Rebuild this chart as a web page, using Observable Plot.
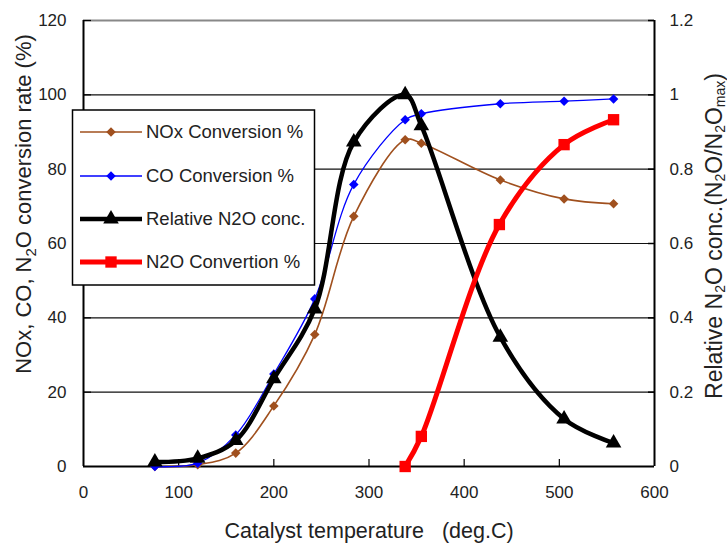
<!DOCTYPE html>
<html>
<head>
<meta charset="utf-8">
<script src="https://cdn.jsdelivr.net/npm/d3@7"></script>
<script src="https://cdn.jsdelivr.net/npm/@observablehq/plot@0.6"></script>
<style>
  html, body { margin: 0; padding: 0; background: #fff; }
  #chart { width: 727px; height: 544px; }
  svg text { white-space: pre; }
</style>
</head>
<body>
<div id="chart"></div>
<script>
// ---- data ----
const temps = [75, 120, 160, 200, 243, 284, 338, 355, 438, 505, 557];
const noxConv = [0, 0.5, 3.6, 16.3, 35.5, 67.3, 87.9, 87.0, 77.1, 72.0, 70.7];
const coConv = [0, 0.9, 8.5, 24.9, 45.1, 75.9, 93.3, 94.9, 97.6, 98.3, 98.9];
const relN2O = [0.012, 0.022, 0.07, 0.236, 0.424, 0.873, 1.0, 0.917, 0.348, 0.128, 0.063];
const n2oTemps = [338, 355, 437, 505, 557];
const n2oConv = [0, 8.1, 65.1, 86.6, 93.3];

const xTicks = [0, 100, 200, 300, 400, 500, 600];
const yTicks = [0, 20, 40, 60, 80, 100, 120];
const rightTicks = [0, 0.2, 0.4, 0.6, 0.8, 1, 1.2];
const gridValues = [20, 40, 60, 80, 100];

const seriesNames = ["NOx Conversion %", "CO Conversion %", "Relative N2O conc.", "N2O Convertion %"];
const xTitle = "Catalyst temperature   (deg.C)";

// ---- tables ----
const nox = temps.map((t, i) => ({t, v: noxConv[i]}));
const co = temps.map((t, i) => ({t, v: coConv[i]}));
const rel = temps.map((t, i) => ({t, v: relN2O[i]}));
const n2o = n2oTemps.map((t, i) => ({t, v: n2oConv[i]}));

const relScale = 100; // right axis (0-1.2) shares the left scale (0-120)

const styles = [
  {color: "#a0501e", width: 1.6, symbol: "diamond2", r: 4.3},
  {color: "#0000ff", width: 1.3, symbol: "diamond2", r: 4.3},
  {color: "#000000", width: 4.5, symbol: "triangle", r: 5.8},
  {color: "#ff0000", width: 5, symbol: "square", r: 6.4}
];

const fmt = d3.format("~g");

const chart = Plot.plot({
  width: 727,
  height: 544,
  marginLeft: 83,
  marginRight: 73,
  marginTop: 20,
  marginBottom: 78,
  x: {domain: [0, 600]},
  y: {domain: [0, 120]},
  style: {fontFamily: "'Liberation Sans', Arial, sans-serif", fontSize: "17px", color: "#222", background: "#fff"},
  marks: [
    Plot.gridY(gridValues, {stroke: "#111", strokeOpacity: 1, strokeWidth: 1.1}),
    Plot.ruleY([120], {stroke: "#888", strokeWidth: 2}),
    // inward ticks
    Plot.tickX(xTicks.slice(1, -1), {insetTop: 439, stroke: "#000", strokeWidth: 1.2}),
    Plot.tickY(yTicks.slice(1), {insetRight: 563, stroke: "#000", strokeWidth: 1.2}),
    Plot.tickY(rightTicks.slice(1).map(d => d * relScale), {insetLeft: 565, stroke: "#000", strokeWidth: 1.5}),
    // axes labels
    Plot.axisX(xTicks, {tickSize: 0, tickPadding: 19, label: null, tickFormat: fmt}),
    Plot.axisY(yTicks, {anchor: "left", tickSize: 0, tickPadding: 17, label: null, tickFormat: fmt}),
    Plot.axisY(rightTicks.map(d => d * relScale), {anchor: "right", tickSize: 0, tickPadding: 15, label: null, tickFormat: d => fmt(d / relScale)}),
    // frame lines
    Plot.ruleX([0, 600], {stroke: "#000", strokeWidth: 2}),
    Plot.ruleY([0], {stroke: "#000", strokeWidth: 2}),
    // series
    Plot.line(nox, {x: "t", y: "v", stroke: styles[0].color, strokeWidth: styles[0].width, curve: "catmull-rom"}),
    Plot.dot(nox, {x: "t", y: "v", fill: styles[0].color, symbol: styles[0].symbol, r: styles[0].r, stroke: "none"}),
    Plot.line(co, {x: "t", y: "v", stroke: styles[1].color, strokeWidth: styles[1].width, curve: "catmull-rom"}),
    Plot.dot(co, {x: "t", y: "v", fill: styles[1].color, symbol: styles[1].symbol, r: styles[1].r, stroke: "none"}),
    Plot.line(rel, {x: "t", y: d => d.v * relScale, stroke: styles[2].color, strokeWidth: styles[2].width, curve: "catmull-rom"}),
    Plot.dot(rel, {x: "t", y: d => d.v * relScale, fill: styles[2].color, symbol: styles[2].symbol, r: styles[2].r, stroke: "none"}),
    Plot.line(n2o, {x: "t", y: "v", stroke: styles[3].color, strokeWidth: styles[3].width, curve: "catmull-rom"}),
    Plot.dot(n2o, {x: "t", y: "v", fill: styles[3].color, symbol: styles[3].symbol, r: styles[3].r, stroke: "none"})
  ]
});

document.getElementById("chart").appendChild(chart);

// ---- titles and legend ----
const svg = d3.select(chart);
const font = "'Liberation Sans', Arial, sans-serif";

// x title
svg.append("text")
  .attr("x", 369).attr("y", 538)
  .attr("text-anchor", "middle")
  .attr("font-family", font).attr("font-size", 21.5).attr("fill", "#222")
  .text(xTitle);

// left title with subscript
const lt = svg.append("text")
  .attr("transform", "translate(31,204) rotate(-90)")
  .attr("text-anchor", "middle")
  .attr("font-family", font).attr("font-size", 22).attr("fill", "#222");
lt.append("tspan").text("NOx, CO, N");
lt.append("tspan").attr("font-size", 15).attr("dy", 5).text("2");
lt.append("tspan").attr("dy", -5).text("O conversion rate (%)");

// right title with subscripts
const rt = svg.append("text")
  .attr("transform", "translate(722,236) rotate(-90)")
  .attr("text-anchor", "middle")
  .attr("font-family", font).attr("font-size", 23).attr("fill", "#222");
rt.append("tspan").text("Relative N");
rt.append("tspan").attr("font-size", 14).attr("dy", 3).text("2");
rt.append("tspan").attr("dy", -3).text("O conc.(N");
rt.append("tspan").attr("font-size", 14).attr("dy", 3).text("2");
rt.append("tspan").attr("dy", -3).text("O/N");
rt.append("tspan").attr("font-size", 14).attr("dy", 3).text("2");
rt.append("tspan").attr("dy", -3).text("O");
rt.append("tspan").attr("font-size", 14).attr("dy", 3).text("max");
rt.append("tspan").attr("dy", -3).text(")");

// legend
const lg = svg.append("g").attr("text-anchor", "start");
lg.append("rect")
  .attr("x", 72.5).attr("y", 110).attr("width", 242).attr("height", 175)
  .attr("fill", "#fff").attr("stroke", "#000").attr("stroke-width", 1.5);
const symMap = {diamond2: d3.symbolDiamond2, triangle: d3.symbolTriangle, square: d3.symbolSquare};
const rowY = [132, 176, 219, 262];
seriesNames.forEach((name, i) => {
  const s = styles[i];
  const y = rowY[i];
  lg.append("line").attr("x1", 80).attr("x2", 142).attr("y1", y).attr("y2", y)
    .attr("stroke", s.color).attr("stroke-width", s.width);
  lg.append("path")
    .attr("d", d3.symbol(symMap[s.symbol], Math.PI * s.r * s.r)())
    .attr("transform", `translate(111,${y})`)
    .attr("fill", s.color);
  lg.append("text").attr("x", 146).attr("y", y).attr("dy", "0.35em")
    .attr("text-anchor", "start")
    .attr("font-family", font).attr("font-size", 18.5).attr("fill", "#222")
    .text(name);
});
</script>
</body>
</html>
